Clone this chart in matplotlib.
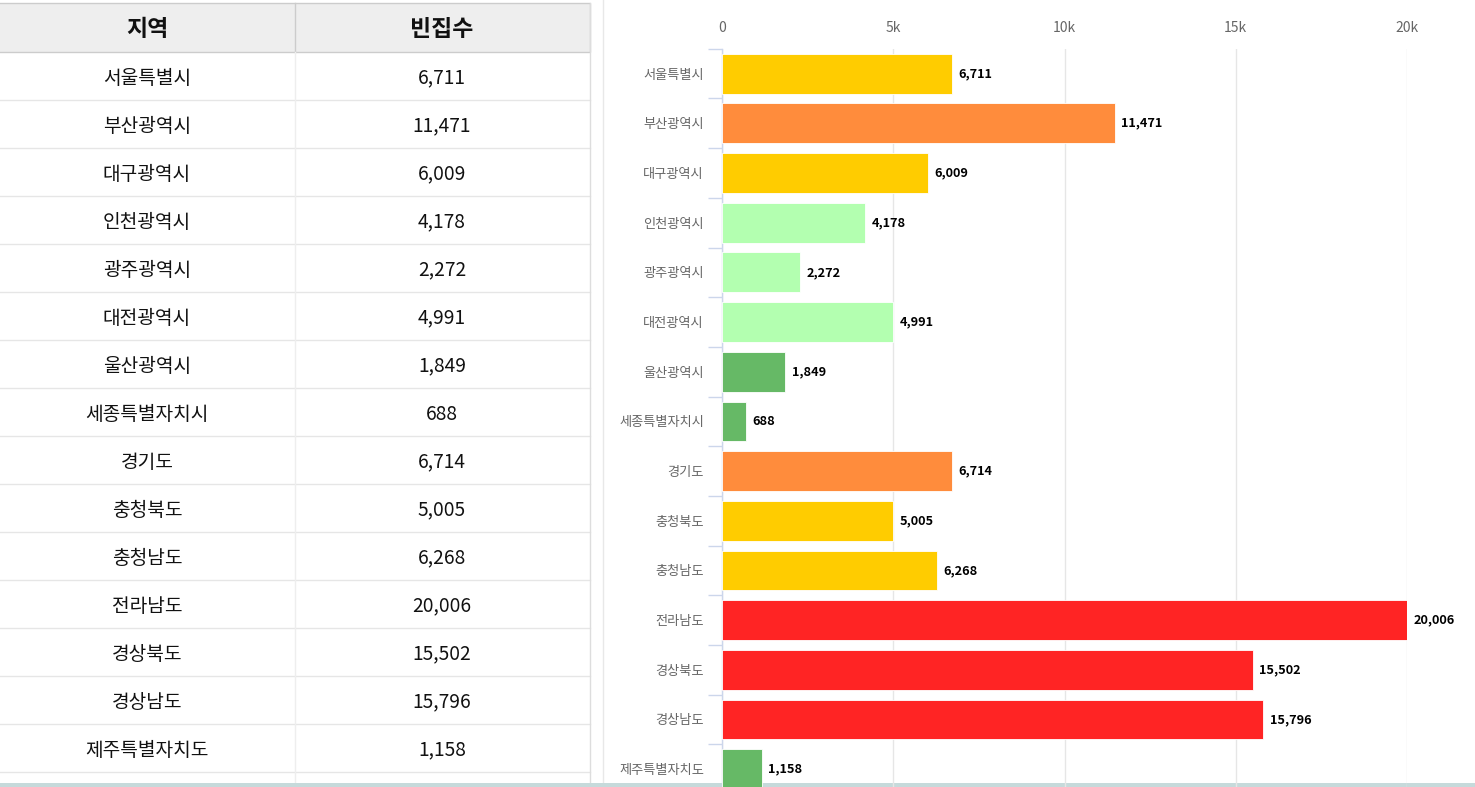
import matplotlib
matplotlib.use("Agg")
import matplotlib.pyplot as plt
from matplotlib.ticker import FuncFormatter

plt.rcParams['font.family'] = ['Noto Sans CJK KR', 'DejaVu Sans']

# data
regions = ['서울특별시', '부산광역시', '대구광역시', '인천광역시', '광주광역시',
           '대전광역시', '울산광역시', '세종특별자치시', '경기도', '충청북도',
           '충청남도', '전라남도', '경상북도', '경상남도', '제주특별자치도']
empty_houses = [6711, 11471, 6009, 4178, 2272, 4991, 1849, 688, 6714, 5005,
                6268, 20006, 15502, 15796, 1158]
# grade of each region (1 = fewest .. 5 = most)
grades = [3, 4, 3, 2, 2, 2, 1, 1, 4, 3, 3, 5, 5, 5, 1]
header = ['지역', '빈집수']
x_ticks = [0, 5000, 10000, 15000, 20000]

grade_colors = {1: '#66b966', 2: '#b3ffb0', 3: '#ffcc00', 4: '#ff8c3c', 5: '#ff2424'}

W, H = 1475, 787
fig = plt.figure(figsize=(W / 100, H / 100), dpi=100)
fig.patch.set_facecolor('white')

# background axes in pixel coords for the table
bg = fig.add_axes([0, 0, 1, 1])
bg.set_xlim(0, W)
bg.set_ylim(H, 0)
bg.axis('off')

head_top, head_bot = 3, 52
row_h = 48
col_div = 295
tbl_right = 590

bg.add_patch(plt.Rectangle((-5, head_top), tbl_right + 5, head_bot - head_top,
                           facecolor='#eeeeee', edgecolor='#cccccc', lw=1))
bg.plot([col_div, col_div], [head_top, head_bot], color='#cccccc', lw=1)
bg.text(147, 30, header[0], ha='center', va='center', fontsize=16.5, fontweight='bold', color='#111111')
bg.text(442, 30, header[1], ha='center', va='center', fontsize=16.5, fontweight='bold', color='#111111')

n = len(regions)
for i, (r, v) in enumerate(zip(regions, empty_houses)):
    top = head_bot + i * row_h
    bg.plot([0, tbl_right], [top + row_h, top + row_h], color='#e6e6e6', lw=1)
    bg.text(147, top + row_h / 2 + 2, r, ha='center', va='center', fontsize=13.8, color='#111111')
    bg.text(442, top + row_h / 2 + 2, f'{v:,}', ha='center', va='center', fontsize=13.8, color='#111111')

bottom_tbl = head_bot + n * row_h + 12
bg.plot([col_div, col_div], [head_bot, bottom_tbl], color='#eeeeee', lw=1)
bg.plot([tbl_right, tbl_right], [head_top, bottom_tbl], color='#dddddd', lw=1)
bg.plot([603, 603], [0, H], color='#e8e8e8', lw=1)
bg.add_patch(plt.Rectangle((0, 783), W, 5, facecolor='#c6dadb', edgecolor='none', zorder=5))

# bar chart
ax_left, ax_right = 722, 1407
ax_top = 48.8
band = 49.68
ax_bot = ax_top + n * band
ax = fig.add_axes([ax_left / W, 1 - ax_bot / H, (ax_right - ax_left) / W, (ax_bot - ax_top) / H])

ypos = list(range(n))
bars = ax.barh(ypos, empty_houses, height=0.8,
               color=[grade_colors[g] for g in grades],
               edgecolor='white', linewidth=0.6, zorder=3)
ax.set_xlim(0, 20000)
ax.set_ylim(n - 0.5, -0.5)

for y, v in zip(ypos, empty_houses):
    ax.text(v + 190, y, f'{v:,}', ha='left', va='center', fontsize=9.2,
            fontweight='bold', color='#000000', clip_on=False, zorder=4)

ax.set_xticks(x_ticks)
ax.xaxis.set_major_formatter(FuncFormatter(lambda x, p: '0' if x == 0 else f'{int(x / 1000)}k'))
ax.xaxis.tick_top()
ax.tick_params(axis='x', length=0, pad=10, labelsize=10, labelcolor='#666666')
ax.grid(axis='x', color='#e6e6e6', lw=1, zorder=0)

ax.set_yticks(ypos)
ax.set_yticklabels(regions)
ax.tick_params(axis='y', length=0, pad=13, labelsize=9.5, labelcolor='#666666')
ax.set_yticks([i - 0.5 for i in range(n + 1)], minor=True)
ax.tick_params(axis='y', which='minor', length=10, width=1, color='#ccd6eb')

for s in ['top', 'right', 'bottom']:
    ax.spines[s].set_visible(False)
ax.spines['left'].set_color('#ccd6eb')
ax.spines['left'].set_linewidth(1)
ax.set_facecolor('none')

fig.savefig('out.png', dpi=100)
